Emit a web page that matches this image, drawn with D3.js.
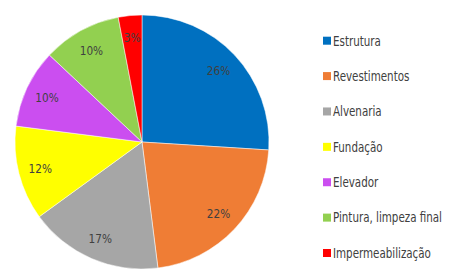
<!DOCTYPE html>
<html><head><meta charset="utf-8">
<script src="https://cdn.jsdelivr.net/npm/d3@7"></script>
<style>
html,body{margin:0;padding:0;background:#fff;}
svg{display:block;}
text{font-family:"DejaVu Sans Condensed","DejaVu Sans",sans-serif;}
</style></head>
<body>
<script>
const categories = ["Estrutura","Revestimentos","Alvenaria","Fundação","Elevador","Pintura, limpeza final","Impermeabilização"];
const values = [26,22,17,12,10,10,3];
const labels = ["26%","22%","17%","12%","10%","10%","3%"];
const colors = ["#0070C0","#EF7D35","#A6A6A6","#FFFF00","#CB4EF0","#92D050","#FF0000"];

const W=450,H=269;
const svg=d3.select("body").append("svg").attr("width",W).attr("height",H);
const cx=142,cy=142,R=127,LR=105;
const pie=d3.pie().sort(null).value(d=>d)(values);
const arc=d3.arc().innerRadius(0).outerRadius(R);
const larc=d3.arc().innerRadius(LR).outerRadius(LR);
const g=svg.append("g").attr("transform",`translate(${cx},${cy})`);
g.selectAll("path").data(pie).join("path")
  .attr("d",arc).attr("fill",(d,i)=>colors[i])
  .attr("stroke","#fff").attr("stroke-width",0.5);
g.selectAll("text").data(pie).join("text")
  .attr("transform",d=>`translate(${larc.centroid(d)}) scale(0.9,1)`)
  .attr("text-anchor","middle").attr("dy","0.35em")
  .attr("font-size",13).attr("fill","#404040")
  .text((d,i)=>labels[i]);

const y=d3.scalePoint().domain(categories).range([40.7,253]);
const lg=svg.append("g");
const row=lg.selectAll("g").data(categories).join("g")
  .attr("transform",d=>`translate(323,${y(d)})`);
row.append("rect").attr("x",0).attr("y",-4).attr("width",8).attr("height",8)
  .attr("fill",(d,i)=>colors[i]);
row.append("text").attr("transform","translate(10,0) scale(0.85,1)").attr("dy","0.36em")
  .attr("font-size",13.5).attr("fill","#404040").text(d=>d);
</script>
</body></html>
